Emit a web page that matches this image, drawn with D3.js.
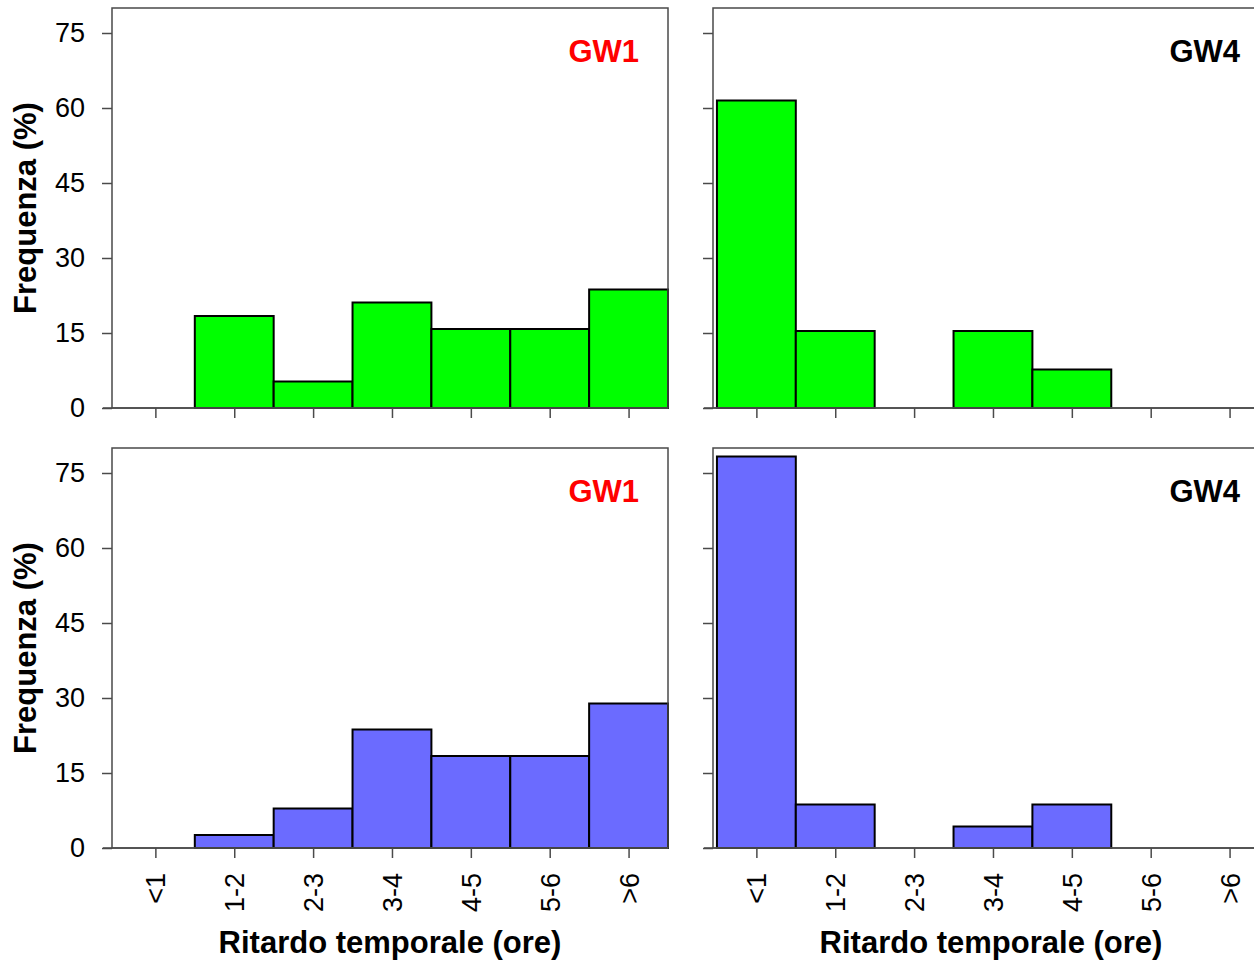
<!DOCTYPE html>
<html>
<head>
<meta charset="utf-8">
<script src="https://cdn.jsdelivr.net/npm/d3@7"></script>
<style>
  body { margin: 0; background: #fff; }
  svg { display: block; font-family: "Liberation Sans", Arial, sans-serif; }
</style>
</head>
<body>
<div id="chart"></div>
<script>
// data (percent of events per lag class)
const categories = ['<1', '1-2', '2-3', '3-4', '4-5', '5-6', '>6']
const gw1Top = [0, 18.4, 5.3, 21.1, 15.8, 15.8, 23.7]
const gw4Top = [61.5, 15.4, 0, 15.4, 7.7, 0, 0]
const gw1Bottom = [0, 2.6, 7.9, 23.7, 18.4, 18.4, 28.9]
const gw4Bottom = [78.3, 8.7, 0, 4.3, 8.7, 0, 0]
const yTicks = [0, 15, 30, 45, 60, 75]

const W = 1254, H = 960
const colours = {green: '#00ff00', blue: '#6b6bff', frame: '#4a4a4a'}

const svg = d3.select('#chart').append('svg')
    .attr('width', W).attr('height', H)

// config
const panelW = 556
const xDomain = [0.45, 7.5]
const rows = [{top: 8, bottom: 408}, {top: 448, bottom: 848}]
const cols = [{left: 112}, {left: 713}]
const tickFont = 27, titleFont = 31

const panels = [
    {row: 0, col: 0, values: gw1Top, fill: colours.green, label: 'GW1', labelColour: '#ff0000'},
    {row: 0, col: 1, values: gw4Top, fill: colours.green, label: 'GW4', labelColour: '#000'},
    {row: 1, col: 0, values: gw1Bottom, fill: colours.blue, label: 'GW1', labelColour: '#ff0000'},
    {row: 1, col: 1, values: gw4Bottom, fill: colours.blue, label: 'GW4', labelColour: '#000'}
]

panels.forEach(p => {
    const r = rows[p.row], c = cols[p.col]
    const x = d3.scaleLinear().domain(xDomain).range([c.left, c.left + panelW])
    const y = d3.scaleLinear().domain([0, 80]).range([r.bottom, r.top])
    const g = svg.append('g')

    // bars (empty classes are not drawn)
    g.selectAll('rect.bar')
        .data(p.values.map((v, i) => ({v, i: i + 1})).filter(d => d.v > 0))
        .join('rect')
        .attr('class', 'bar')
        .attr('x', d => x(d.i - 0.5))
        .attr('y', d => y(d.v))
        .attr('width', d => x(d.i + 0.5) - x(d.i - 0.5))
        .attr('height', d => y(0) - y(d.v))
        .attr('fill', p.fill)
        .attr('stroke', '#000')
        .attr('stroke-width', 2)

    // frame
    g.append('rect')
        .attr('x', x(xDomain[0])).attr('y', r.top)
        .attr('width', x(xDomain[1]) - x(xDomain[0]))
        .attr('height', r.bottom - r.top)
        .attr('fill', 'none')
        .attr('stroke', colours.frame)
        .attr('stroke-width', 1.5)

    // y axis
    const yAxis = d3.axisLeft(y)
        .tickValues(yTicks)
        .tickSize(10)
        .tickPadding(17)
        .tickFormat(p.col == 0 ? d3.format('d') : '')
    const ya = g.append('g')
        .attr('transform', 'translate(' + x(xDomain[0]) + ',0)')
        .call(yAxis)
    ya.select('.domain').remove()
    ya.selectAll('line').attr('stroke', colours.frame).attr('stroke-width', 1.5)
    ya.selectAll('text')
        .attr('font-size', tickFont)
        .attr('font-family', '"Liberation Sans", Arial, sans-serif')
        .attr('fill', '#000')

    // x axis
    const xAxis = d3.axisBottom(x)
        .tickValues(d3.range(1, categories.length + 1))
        .tickSize(10)
        .tickSizeOuter(0)
        .tickFormat(p.row == 1 ? (d => categories[d - 1]) : '')
    const xa = g.append('g')
        .attr('transform', 'translate(0,' + r.bottom + ')')
        .call(xAxis)
    const axisEnd = p.col == 0 ? x(xDomain[1]) : W
    xa.select('.domain')
        .attr('d', 'M' + (x(xDomain[0]) - 9) + ',0H' + axisEnd)
        .attr('stroke', colours.frame).attr('stroke-width', 1.5)
    xa.selectAll('line').attr('stroke', colours.frame).attr('stroke-width', 1.5)
    xa.selectAll('text')
        .attr('font-size', tickFont)
        .attr('font-family', '"Liberation Sans", Arial, sans-serif')
        .attr('fill', '#000')
        .attr('transform', 'rotate(-90)')
        .attr('text-anchor', 'end')
        .attr('x', -25)
        .attr('y', 0)
        .attr('dy', '0.35em')

    // panel label
    g.append('text')
        .attr('x', x(xDomain[0]) + panelW - 29)
        .attr('y', r.top + 54)
        .attr('text-anchor', 'end')
        .attr('font-size', titleFont)
        .attr('font-weight', 'bold')
        .attr('fill', p.labelColour)
        .text(p.label)

    // axis titles
    if (p.col == 0) {
        g.append('text')
            .attr('transform', 'translate(36,' + (r.top + r.bottom) / 2 + ') rotate(-90)')
            .attr('text-anchor', 'middle')
            .attr('font-size', titleFont)
            .attr('font-weight', 'bold')
            .text('Frequenza (%)')
    }
    if (p.row == 1) {
        g.append('text')
            .attr('x', x(xDomain[0]) + panelW / 2)
            .attr('y', 953)
            .attr('text-anchor', 'middle')
            .attr('font-size', titleFont)
            .attr('font-weight', 'bold')
            .text('Ritardo temporale (ore)')
    }
})
</script>
</body>
</html>
